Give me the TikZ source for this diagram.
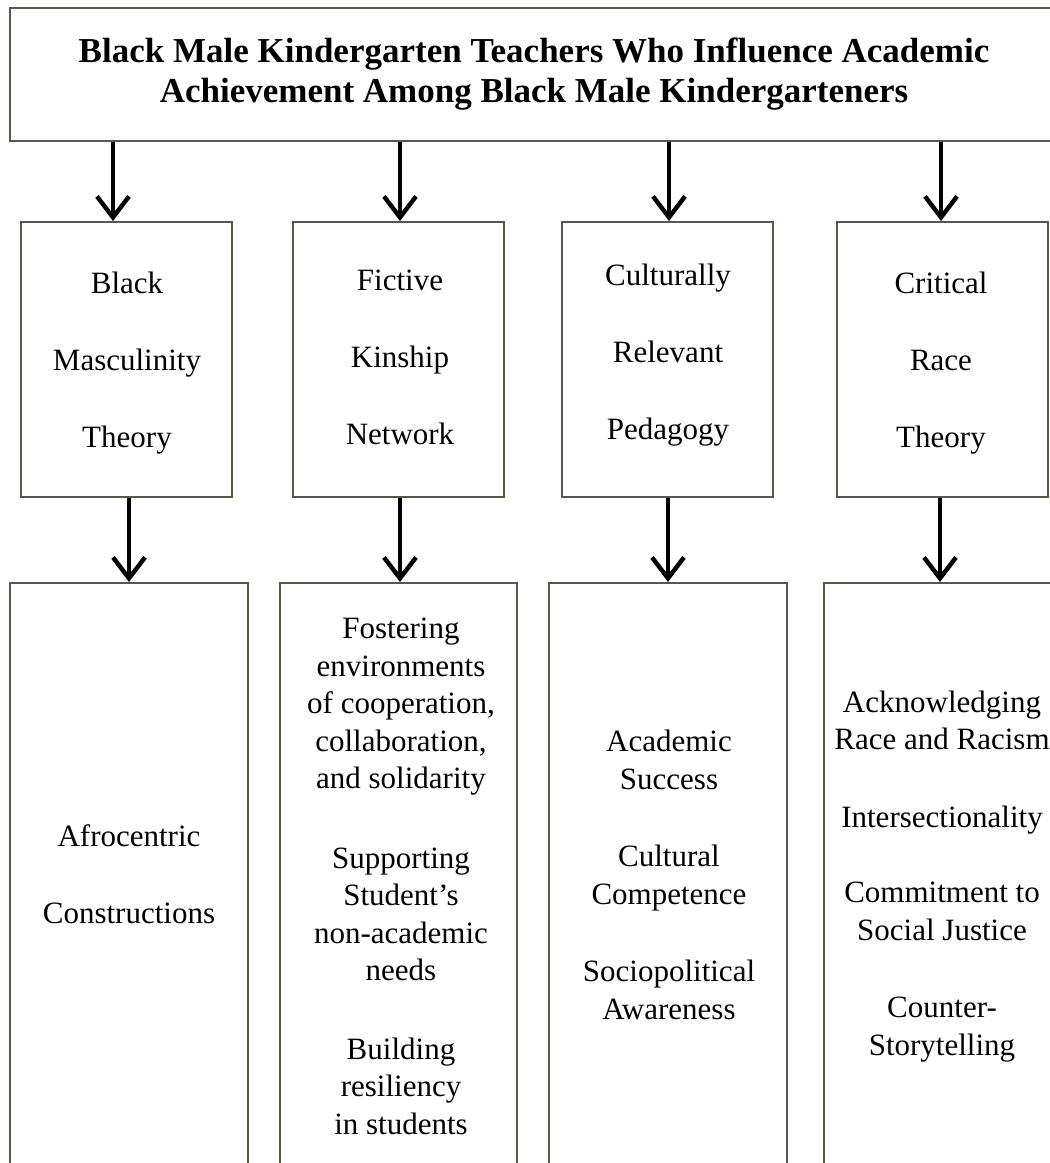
\documentclass[tikz,border=0pt]{standalone}
\usepackage{fontspec}
\setmainfont{Liberation Serif}
\usetikzlibrary{arrows.meta}
\definecolor{boxline}{RGB}{88,88,78}
\tikzset{
  frame/.style={draw=boxline, line width=1pt, fill=none, inner sep=0pt},
  txt/.style={align=center, inner sep=0pt, font=\fontsize{15.5pt}{18.75pt}\selectfont},
  ttl/.style={align=center, inner sep=0pt, font=\fontsize{17.5pt}{20pt}\selectfont\bfseries},
  arr/.style={line width=2pt, -{Straight Barb[length=10.5pt,width=16pt,line width=2.2pt]}}
}
\begin{document}
\begin{tikzpicture}[x=0.5pt,y=-0.5pt]
\useasboundingbox (0,0) rectangle (1050,1163);
\clip (0,0) rectangle (1050,1163);
\fill[white] (0,0) rectangle (1050,1163);
% top box
\node[frame, minimum width=525pt, minimum height=66.5pt] (top) at (535,74.5) {};
\node[ttl] (title) at (534,74) {Black Male Kindergarten Teachers Who Influence Academic\\Achievement Among Black Male Kindergarteners};
% middle boxes
\node[frame, minimum width=105.5pt, minimum height=137.5pt] (m1) at (126.5,359.5) {};
\node[frame, minimum width=105.5pt, minimum height=137.5pt] (m2) at (398.5,359.5) {};
\node[frame, minimum width=105.5pt, minimum height=137.5pt] (m3) at (667.5,359.5) {};
\node[frame, minimum width=105.5pt, minimum height=137.5pt] (m4) at (942.5,359.5) {};
\node[txt] (mt1) at (127,363) {Black\\[19.75pt]Masculinity\\[19.75pt]Theory};
\node[txt] (mt2) at (400,357.5) {Fictive\\[19.75pt]Kinship\\[19.75pt]Network};
\node[txt] (mt3) at (668,355.5) {Culturally\\[19.75pt]Relevant\\[19.75pt]Pedagogy};
\node[txt] (mt4) at (941,363) {Critical\\[19.75pt]Race\\[19.75pt]Theory};
% bottom boxes
\node[frame, minimum width=119pt, minimum height=308.5pt] (b1) at (129,891.5) {};
\node[frame, minimum width=118.5pt, minimum height=308.5pt] (b2) at (398.5,891.5) {};
\node[frame, minimum width=119pt, minimum height=308.5pt] (b3) at (668,891.5) {};
\node[frame, minimum width=119pt, minimum height=308.5pt] (b4) at (943,891.5) {};
\node[txt] (bt1) at (129,874.5) {Afrocentric\\[19.75pt]Constructions};
\node[txt] (bt2) at (401,876.5) {Fostering\\environments\\of cooperation,\\collaboration,\\and solidarity\\[21pt]Supporting\\Student's\\non-academic\\needs\\[20.5pt]Building\\resiliency\\in students};
\node[txt] (bt3) at (669,875) {Academic\\Success\\[20pt]Cultural\\Competence\\[20pt]Sociopolitical\\Awareness};
\node[txt] (bt4) at (942,876.5) {Acknowledging\\Race and Racism\\[20pt]Intersectionality\\[19pt]Commitment to\\Social Justice\\[20pt]Counter-\\Storytelling};
% arrow x positions
\coordinate (x1) at (113,0);
\coordinate (x2) at (400,0);
\coordinate (x3) at (669,0);
\coordinate (x4) at (941,0);
\coordinate (y1) at (129,0);
\coordinate (y2) at (400,0);
\coordinate (y3) at (668,0);
\coordinate (y4) at (940,0);
\draw[arr] (top.south -| x1) -- (m1.north -| x1);
\draw[arr] (top.south -| x2) -- (m2.north -| x2);
\draw[arr] (top.south -| x3) -- (m3.north -| x3);
\draw[arr] (top.south -| x4) -- (m4.north -| x4);
\draw[arr] (m1.south -| y1) -- (b1.north -| y1);
\draw[arr] (m2.south -| y2) -- (b2.north -| y2);
\draw[arr] (m3.south -| y3) -- (b3.north -| y3);
\draw[arr] (m4.south -| y4) -- (b4.north -| y4);
\end{tikzpicture}
\end{document}
